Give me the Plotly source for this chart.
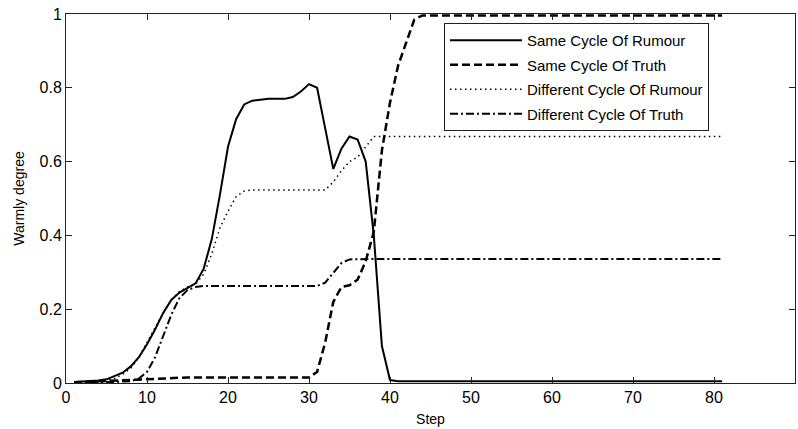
import plotly.graph_objects as go

steps = list(range(1, 82))

same_rumour = [
    0.003, 0.004, 0.005, 0.007, 0.010, 0.018, 0.028, 0.045, 0.070, 0.105,
    0.145, 0.190, 0.225, 0.245, 0.258, 0.270, 0.310, 0.390, 0.510, 0.640,
    0.715, 0.755, 0.765, 0.768, 0.770, 0.770, 0.770, 0.775, 0.790, 0.810,
    0.800, 0.690, 0.580, 0.635, 0.668, 0.660, 0.600, 0.400, 0.100, 0.008,
    0.005, 0.005, 0.005, 0.005, 0.005, 0.005, 0.005, 0.005, 0.005, 0.005,
    0.005, 0.005, 0.005, 0.005, 0.005, 0.005, 0.005, 0.005, 0.005, 0.005,
    0.005, 0.005, 0.005, 0.005, 0.005, 0.005, 0.005, 0.005, 0.005, 0.005,
    0.005, 0.005, 0.005, 0.005, 0.005, 0.005, 0.005, 0.005, 0.005, 0.005,
    0.005,
]

same_truth = [
    0.002, 0.003, 0.004, 0.005, 0.006, 0.007, 0.008, 0.009, 0.010, 0.011,
    0.012, 0.013, 0.014, 0.015, 0.015, 0.015, 0.015, 0.015, 0.015, 0.015,
    0.015, 0.015, 0.015, 0.015, 0.015, 0.015, 0.015, 0.015, 0.015, 0.015,
    0.030, 0.110, 0.220, 0.260, 0.265, 0.280, 0.330, 0.410, 0.630, 0.760,
    0.860, 0.925, 0.985, 0.996, 0.996, 0.996, 0.996, 0.996, 0.996, 0.996,
    0.996, 0.996, 0.996, 0.996, 0.996, 0.996, 0.996, 0.996, 0.996, 0.996,
    0.996, 0.996, 0.996, 0.996, 0.996, 0.996, 0.996, 0.996, 0.996, 0.996,
    0.996, 0.996, 0.996, 0.996, 0.996, 0.996, 0.996, 0.996, 0.996, 0.996,
    0.996,
]

diff_rumour = [
    0.002, 0.003, 0.004, 0.005, 0.007, 0.012, 0.024, 0.040, 0.070, 0.110,
    0.150, 0.190, 0.225, 0.248, 0.260, 0.268, 0.295, 0.350, 0.420, 0.465,
    0.505, 0.520, 0.523, 0.523, 0.523, 0.523, 0.523, 0.523, 0.523, 0.523,
    0.523, 0.523, 0.545, 0.575, 0.600, 0.612, 0.640, 0.668, 0.668, 0.668,
    0.668, 0.668, 0.668, 0.668, 0.668, 0.668, 0.668, 0.668, 0.668, 0.668,
    0.668, 0.668, 0.668, 0.668, 0.668, 0.668, 0.668, 0.668, 0.668, 0.668,
    0.668, 0.668, 0.668, 0.668, 0.668, 0.668, 0.668, 0.668, 0.668, 0.668,
    0.668, 0.668, 0.668, 0.668, 0.668, 0.668, 0.668, 0.668, 0.668, 0.668,
    0.668,
]

diff_truth = [
    0.001, 0.001, 0.002, 0.002, 0.003, 0.003, 0.004, 0.005, 0.012, 0.030,
    0.070, 0.130, 0.185, 0.230, 0.252, 0.260, 0.263, 0.263, 0.263, 0.263,
    0.263, 0.263, 0.263, 0.263, 0.263, 0.263, 0.263, 0.263, 0.263, 0.263,
    0.263, 0.272, 0.300, 0.325, 0.335, 0.336, 0.336, 0.336, 0.336, 0.336,
    0.336, 0.336, 0.336, 0.336, 0.336, 0.336, 0.336, 0.336, 0.336, 0.336,
    0.336, 0.336, 0.336, 0.336, 0.336, 0.336, 0.336, 0.336, 0.336, 0.336,
    0.336, 0.336, 0.336, 0.336, 0.336, 0.336, 0.336, 0.336, 0.336, 0.336,
    0.336, 0.336, 0.336, 0.336, 0.336, 0.336, 0.336, 0.336, 0.336, 0.336,
    0.336,
]

series_names = [
    "Same Cycle Of Rumour",
    "Same Cycle Of Truth",
    "Different Cycle Of Rumour",
    "Different Cycle Of Truth",
]
x_ticks = [0, 10, 20, 30, 40, 50, 60, 70, 80, 90]
y_ticks = [0, 0.2, 0.4, 0.6, 0.8, 1]
y_tick_text = ["0", "0.2", "0.4", "0.6", "0.8", "1"]

styles = [
    dict(width=2, dash="solid"),
    dict(width=2.5, dash="8px,4px"),
    dict(width=1.5, dash="1.5px,3.5px"),
    dict(width=2, dash="8px,3px,2px,3px"),
]

fig = go.Figure()
for i, (name, vals) in enumerate(zip(series_names, [same_rumour, same_truth, diff_rumour, diff_truth])):
    fig.add_trace(go.Scatter(
        x=steps, y=vals, mode="lines", name=name, legendgroup=f"g{i}",
        line=dict(color="black", **styles[i]),
    ))

FONT = "Liberation Sans, Arial, sans-serif"
fig.update_layout(
    width=798, height=429,
    margin=dict(l=66, r=3, t=14, b=46),
    paper_bgcolor="white", plot_bgcolor="white",
    font=dict(family=FONT, color="black"),
    showlegend=True,
    legend=dict(
        x=0.5185, y=0.9756, xanchor="left", yanchor="top",
        bordercolor="#222", borderwidth=1, bgcolor="white",
        font=dict(size=15, family=FONT),
        itemwidth=72, traceorder="grouped", tracegroupgap=2,
        entrywidth=198, entrywidthmode="pixels",
    ),
    xaxis=dict(
        range=[0, 90], tickvals=x_ticks, ticks="inside", ticklen=6,
        tickcolor="#222", mirror="allticks", showline=True, linecolor="#222",
        linewidth=1, showgrid=False, zeroline=False,
        tickfont=dict(size=16), title=dict(text="Step", font=dict(size=14), standoff=8),
    ),
    yaxis=dict(
        range=[0, 1], tickvals=y_ticks, ticktext=y_tick_text, ticks="inside",
        ticklen=6, tickcolor="#222", mirror="allticks", showline=True,
        linecolor="#222", linewidth=1, showgrid=False, zeroline=False,
        tickfont=dict(size=16), title=dict(text="Warmly degree", font=dict(size=14), standoff=11),
    ),
)

fig.write_html("out.html")
